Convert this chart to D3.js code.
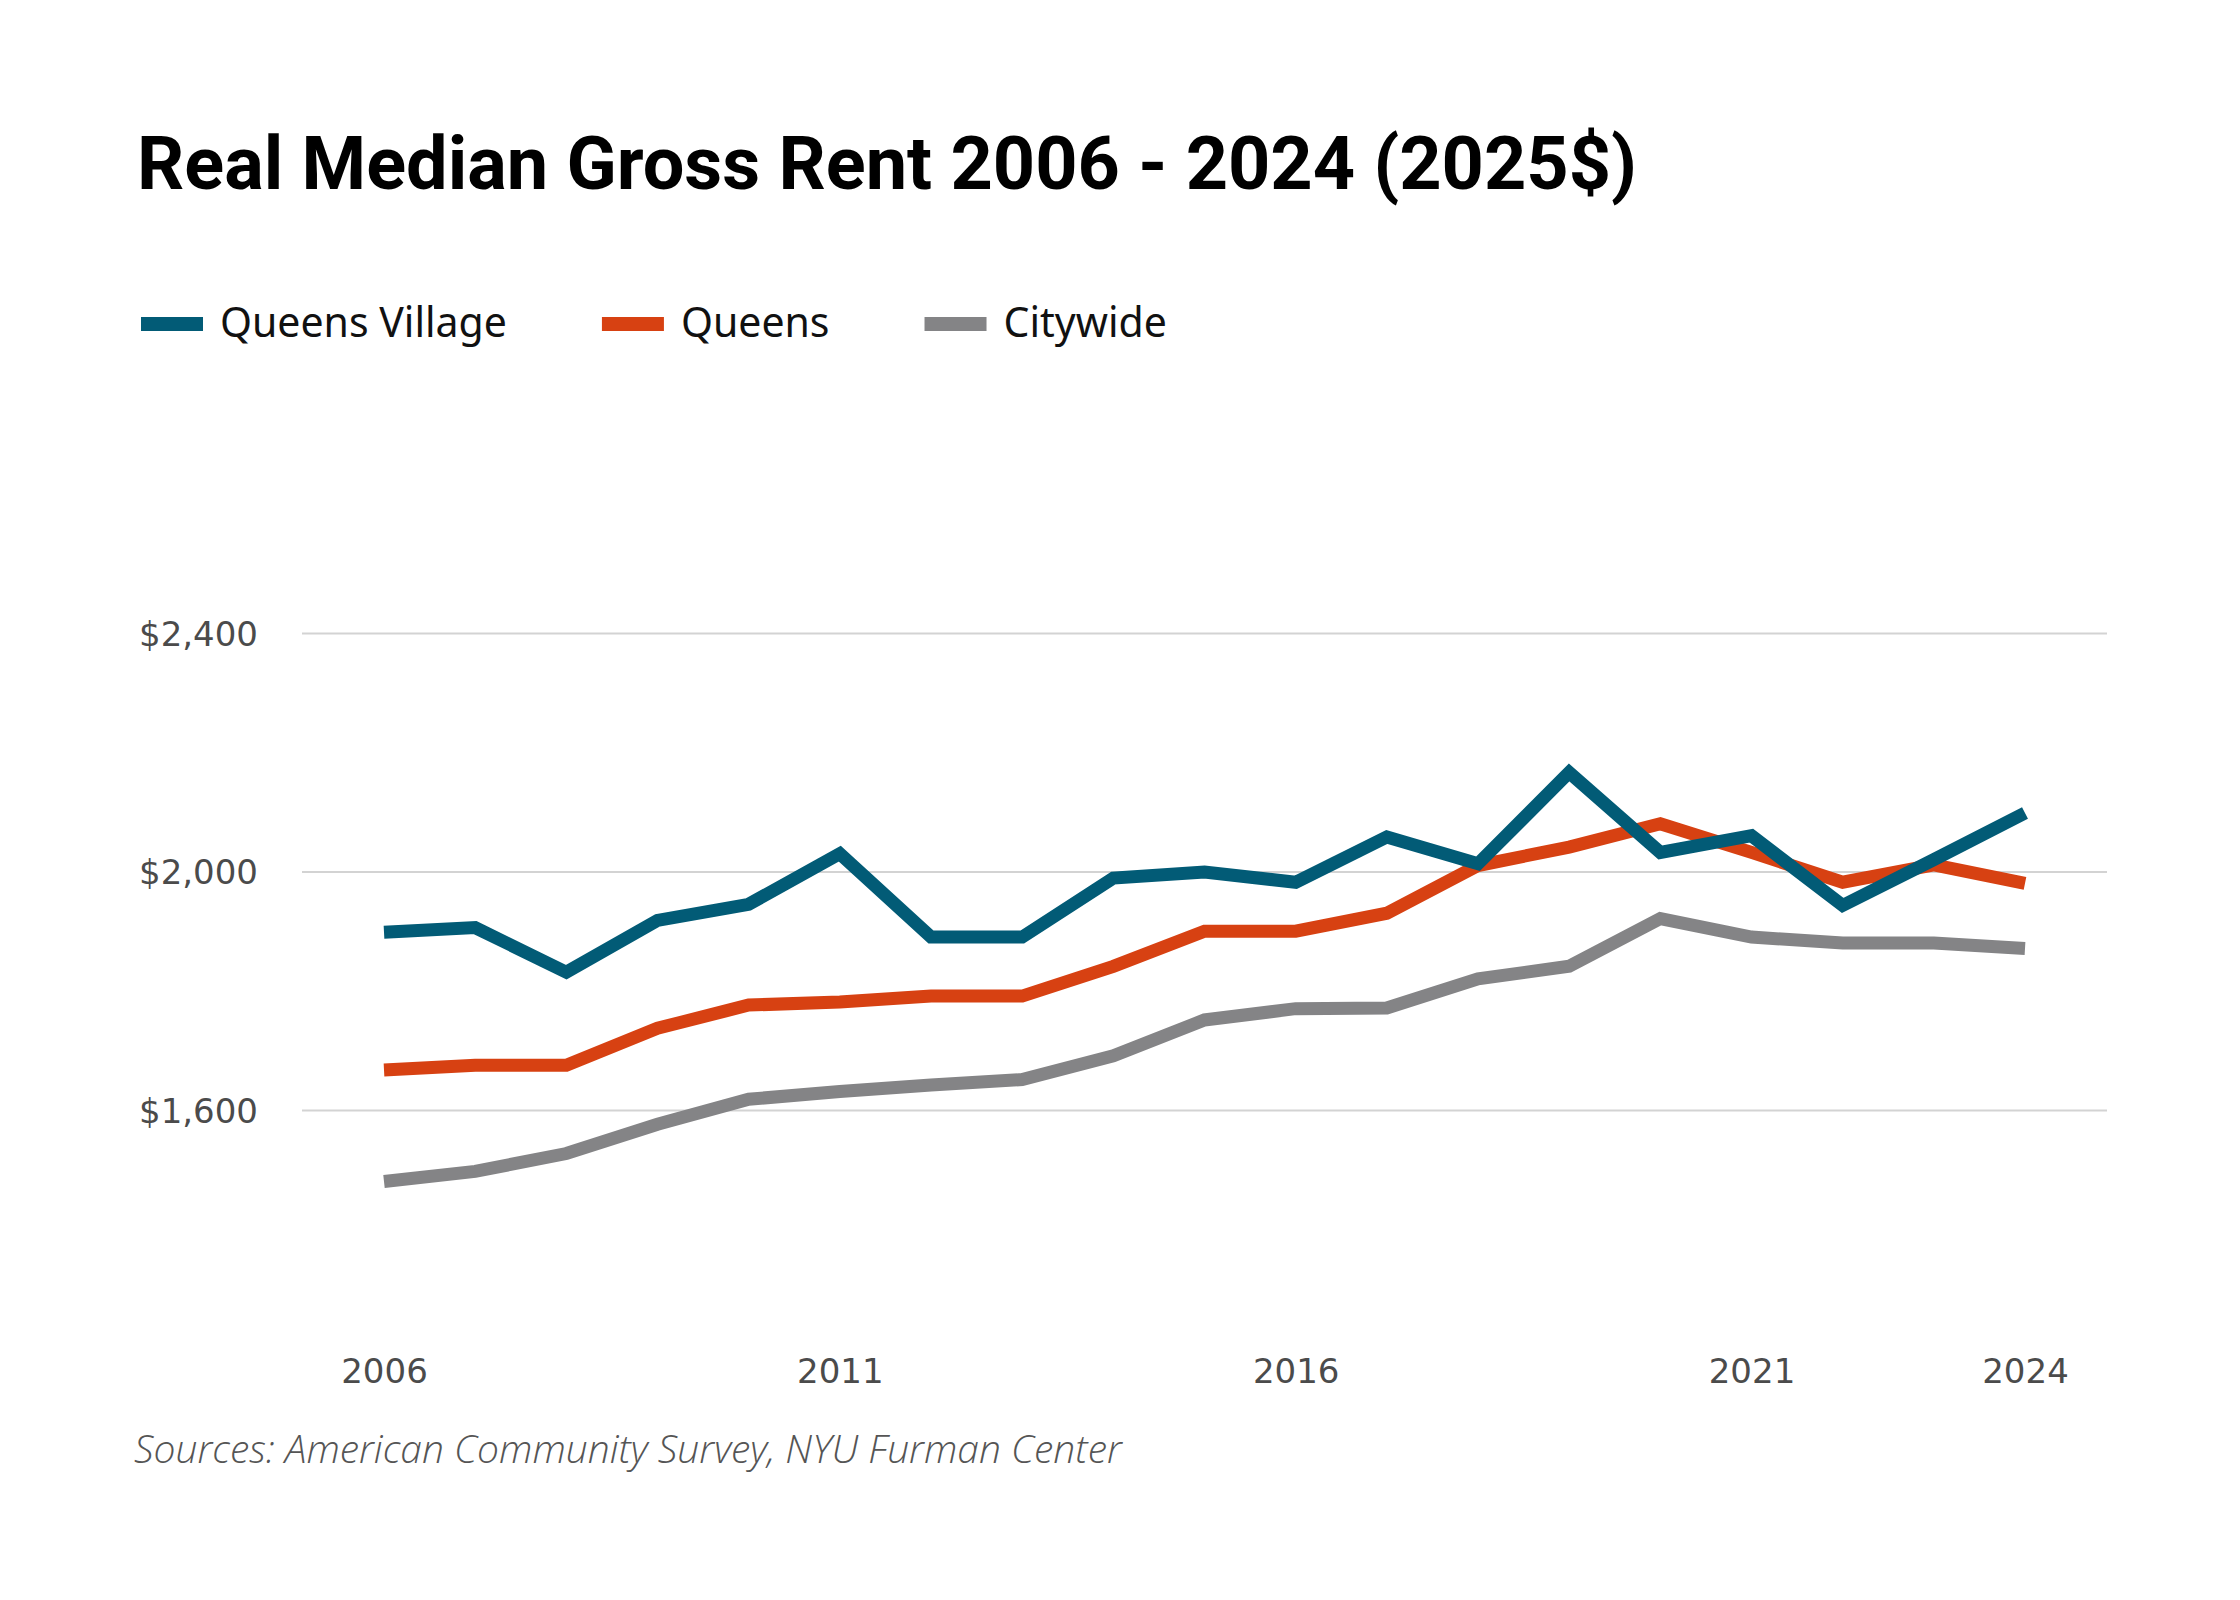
<!DOCTYPE html>
<html>
<head>
<meta charset="utf-8">
<script src="https://cdn.jsdelivr.net/npm/d3@7"></script>
<style>
  html, body { margin: 0; padding: 0; background: #ffffff; }
  svg { display: block; }
</style>
</head>
<body>
<svg id="chart" width="2240" height="1600"></svg>
<script>
// ---- data ----
const years = [2006, 2007, 2008, 2009, 2010, 2011, 2012, 2013, 2014, 2015, 2016, 2017, 2018, 2019, 2020, 2021, 2022, 2023, 2024];
const queensVillage = [1898, 1906, 1831, 1918, 1945, 2030, 1890, 1890, 1989, 1999, 1982, 2058, 2013, 2166, 2032, 2060, 1943, 2020, 2098];
const queens = [1667, 1675, 1675, 1737, 1776, 1781, 1791, 1791, 1841, 1900, 1900, 1930, 2010, 2041, 2080, 2032, 1982, 2011, 1980];
const citywide = [1480, 1497, 1527, 1576, 1618, 1631, 1642, 1651, 1691, 1751, 1770, 1771, 1820, 1841, 1921, 1890, 1880, 1880, 1871];
const seriesNames = ["Queens Village", "Queens", "Citywide"];
const seriesColors = ["#025b76", "#d74112", "#848486"];
const yTicks = [1600, 2000, 2400];
const xTicks = [2006, 2011, 2016, 2021, 2024];
const titleText = "Real Median Gross Rent 2006 - 2024 (2025$)";
const sourceText = "Sources: American Community Survey, NYU Furman Center";

const svg = d3.select("#chart");

// ---- scales ----
const x = d3.scaleLinear().domain([2006, 2024]).range([384, 2025]);
const y = d3.scaleLinear().domain([1600, 2400]).range([1110, 633]);
const gridLeft = 302, gridRight = 2107;

function fitWidth(sel, target) {
  const w = sel.node().getComputedTextLength();
  const fs = parseFloat(sel.attr("font-size"));
  sel.attr("font-size", (fs * target / w).toFixed(2));
}

// ---- title ----
const title = svg.append("text")
  .attr("x", 137).attr("y", 189)
  .attr("font-family", "Roboto, 'Open Sans', sans-serif")
  .attr("font-weight", 700)
  .attr("font-size", 68)
  .attr("fill", "#000")
  .text(titleText);
fitWidth(title, 1500);

// ---- legend ----
const legend = svg.append("g");
let lx = 141;
seriesNames.forEach((name, i) => {
  const g = legend.append("g");
  g.append("rect")
    .attr("x", lx).attr("y", 317)
    .attr("width", 62).attr("height", 14)
    .attr("fill", seriesColors[i]);
  const t = g.append("text")
    .attr("x", lx + 79).attr("y", 337)
    .attr("font-family", "'Noto Sans', 'Open Sans', sans-serif")
    .attr("font-size", 41)
    .attr("fill", "#111")
    .text(name);
  lx = lx + 79 + t.node().getComputedTextLength() + 95;
});

// ---- y axis with gridlines ----
const yAxis = d3.axisLeft(y)
  .tickValues(yTicks)
  .tickSize(-(gridRight - gridLeft))
  .tickPadding(44)
  .tickFormat(d3.format("$,.0f"));
const yg = svg.append("g")
  .attr("transform", `translate(${gridLeft},0)`)
  .call(yAxis);
yg.select(".domain").remove();
yg.selectAll(".tick line").attr("stroke", "#d3d3d3").attr("stroke-width", 2);
yg.selectAll(".tick text")
  .attr("font-family", "'DejaVu Sans', sans-serif")
  .attr("font-size", 34)
  .attr("fill", "#4b4b4b")
  .attr("dy", "0.36em");

// ---- x axis ----
const xAxis = d3.axisBottom(x)
  .tickValues(xTicks)
  .tickSize(0)
  .tickPadding(0)
  .tickFormat(d3.format("d"));
const xg = svg.append("g")
  .attr("transform", `translate(0,1383)`)
  .call(xAxis);
xg.select(".domain").remove();
xg.selectAll(".tick text")
  .attr("y", 0).attr("dy", 0)
  .attr("font-family", "'DejaVu Sans', sans-serif")
  .attr("font-size", 34)
  .attr("fill", "#4b4b4b");

// ---- lines ----
const line = d3.line()
  .x(d => x(d[0]))
  .y(d => y(d[1]));
const seriesData = [queensVillage, queens, citywide];
const order = [2, 1, 0];
order.forEach(i => {
  svg.append("path")
    .datum(years.map((yr, j) => [yr, seriesData[i][j]]))
    .attr("d", line)
    .attr("fill", "none")
    .attr("stroke", seriesColors[i])
    .attr("stroke-width", 13)
    .attr("stroke-linejoin", "miter")
    .attr("stroke-linecap", "butt");
});

// ---- source ----
const src = svg.append("text")
  .attr("x", 134).attr("y", 1463)
  .attr("font-family", "'Open Sans', sans-serif")
  .attr("font-style", "italic")
  .attr("font-weight", 300)
  .attr("font-size", 36)
  .attr("fill", "#555")
  .text(sourceText);
fitWidth(src, 988);
</script>
</body>
</html>
